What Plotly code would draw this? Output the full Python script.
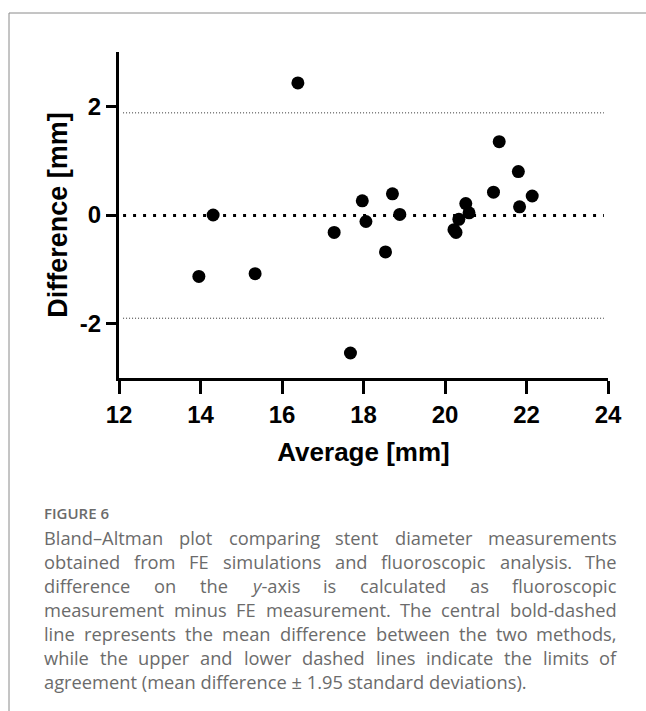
import plotly.graph_objects as go

# ---- data ----
avg_mm = [13.96, 14.31, 15.34, 16.39, 17.28, 17.68, 17.97, 18.06, 18.54, 18.71,
          18.89, 20.22, 20.27, 20.34, 20.51, 20.59, 21.19, 21.33, 21.80, 21.83, 22.14]
diff_mm = [-1.13, 0.00, -1.08, 2.43, -0.32, -2.54, 0.26, -0.12, -0.68, 0.39,
           0.01, -0.27, -0.32, -0.08, 0.21, 0.04, 0.42, 1.35, 0.80, 0.15, 0.35]
mean_diff = -0.01
upper_loa = 1.88
lower_loa = -1.90
line_x = [12.1, 23.9]
x_ticks = [12, 14, 16, 18, 20, 22, 24]
y_ticks = [-2, 0, 2]
y_tick_text = ["-2", "0", "2"]

caption_title = "FIGURE 6"
caption_lines = [
    ["Bland\u2013Altman", "plot", "comparing", "stent", "diameter", "measurements"],
    ["obtained", "from", "FE", "simulations", "and", "fluoroscopic", "analysis.", "The"],
    ["difference", "on", "the", "y-axis", "is", "calculated", "as", "fluoroscopic"],
    ["measurement", "minus", "FE", "measurement.", "The", "central", "bold-dashed"],
    ["line", "represents", "the", "mean", "difference", "between", "the", "two", "methods,"],
    ["while", "the", "upper", "and", "lower", "dashed", "lines", "indicate", "the", "limits", "of"],
]
caption_last = "agreement (mean difference \u00b1 1.95 standard deviations)."

# ---- layout geometry (pixels) ----
W, H = 646, 711
L, R, T, B = 119, 608, 52, 378


def xp(px):
    return (px - L) / (R - L)


def yp(py):
    return (B - py) / (B - T)


# approximate Open Sans advance widths (units of 1/2048 em) for justification
ADV = {" ": 532, ",": 502, "-": 659, ".": 545, "(": 608, ")": 608, "\u2013": 1024, "\u00b1": 1171,
       "A": 1296, "B": 1327, "E": 1120, "F": 1032, "T": 1096,
       "a": 1139, "b": 1255, "c": 975, "d": 1255, "e": 1149, "f": 694, "g": 1122, "h": 1257,
       "i": 518, "l": 518, "m": 1905, "n": 1257, "o": 1237, "p": 1255, "r": 836, "s": 977,
       "t": 723, "u": 1257, "v": 1032, "w": 1581, "x": 1073, "y": 1032}


def text_w(s, size):
    return sum(ADV.get(c, 1171) for c in s) / 2048.0 * size


CAP_SIZE = 18.3
CAP_LEFT, CAP_RIGHT = 44, 617
line_y = [537, 561, 585, 609, 633, 657]
last_y = 681

fig = go.Figure()

for yv, w, dash, col in [(upper_loa, 1, "1px,2px", "#333333"), (lower_loa, 1, "1px,2px", "#333333"),
                         (mean_diff, 3, "3px,7px", "#000000")]:
    fig.add_trace(go.Scatter(x=line_x, y=[yv, yv], mode="lines",
                             line=dict(color=col, width=w, dash=dash),
                             hoverinfo="skip", showlegend=False))

fig.add_trace(go.Scatter(x=avg_mm, y=diff_mm, mode="markers",
                         marker=dict(color="#000000", size=13),
                         cliponaxis=False, showlegend=False))

axis_font = dict(family="Liberation Sans, Arial", size=24, color="#000000", weight="bold")

fig.update_xaxes(range=[12, 24], tickvals=x_ticks, ticks="outside", ticklen=13, tickwidth=3,
                 tickcolor="#000", showline=True, linewidth=3, linecolor="#000",
                 showgrid=False, zeroline=False, tickfont=axis_font,
                 title=dict(text="Average [mm]", standoff=17,
                            font=dict(family="Liberation Sans, Arial", size=26, color="#000", weight="bold")))
fig.update_yaxes(range=[-3, 3], tickvals=y_ticks, ticktext=y_tick_text, ticks="outside", ticklen=10,
                 tickwidth=3, tickcolor="#000", showline=True, linewidth=3, linecolor="#000",
                 showgrid=False, zeroline=False, tickfont=axis_font,
                 title=dict(text="Difference [mm]", standoff=5,
                            font=dict(family="Liberation Sans, Arial", size=27, color="#000", weight="bold")))

annotations = []
cap_col = "#6b6b6b"
cap_font = dict(family="Open Sans", size=CAP_SIZE, color=cap_col)


def ann(text, px, py, anchor, font):
    return dict(text=text, x=xp(px), y=yp(py), xref="paper", yref="paper",
                xanchor=anchor, yanchor="middle", showarrow=False, font=font,
                borderpad=0, borderwidth=0)


annotations.append(ann(caption_title, CAP_LEFT, 513, "left",
                       dict(family="Open Sans", size=15, color=cap_col, weight=600)))
for words, ly in zip(caption_lines, line_y):
    widths = [text_w(wd, CAP_SIZE) for wd in words]
    gap = (CAP_RIGHT - CAP_LEFT - sum(widths)) / (len(words) - 1)
    x = CAP_LEFT
    for wd, ww in zip(words, widths):
        label = wd.replace("y-axis", "<i>y</i>-axis")
        annotations.append(ann(label, x + ww / 2, ly, "center", cap_font))
        x += ww + gap
annotations.append(ann(caption_last, CAP_LEFT, last_y, "left", cap_font))

shapes = [
    dict(type="line", xref="paper", yref="paper", x0=xp(9), x1=xp(646), y0=yp(13), y1=yp(13),
         line=dict(color="#8a8a8a", width=1)),
    dict(type="line", xref="paper", yref="paper", x0=xp(9), x1=xp(9), y0=yp(13), y1=yp(711),
         line=dict(color="#8a8a8a", width=1)),
]

fig.update_layout(width=W, height=H, margin=dict(l=L, r=W - R, t=T, b=H - B, autoexpand=False),
                  plot_bgcolor="white", paper_bgcolor="white",
                  annotations=annotations, shapes=shapes, showlegend=False)

fig.write_html("out.html")
